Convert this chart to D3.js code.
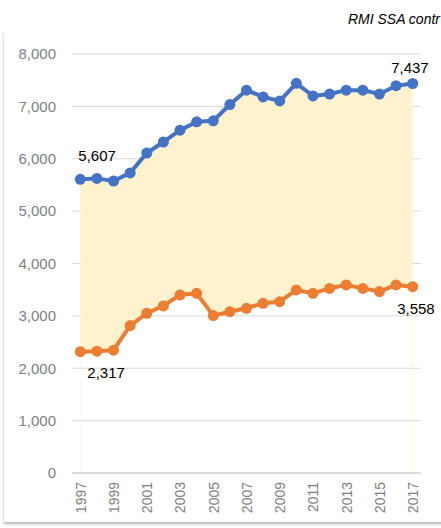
<!DOCTYPE html>
<html>
<head>
<meta charset="utf-8">
<script src="https://cdn.jsdelivr.net/npm/d3@7"></script>
<style>
  body { margin: 0; background: #fff; }
  svg { display: block; font-family: "Liberation Sans", Arial, sans-serif; }
  .tick text { fill: #7f7f7f; }
</style>
</head>
<body>
<svg id="chart" width="441" height="528"></svg>
<script>
// values
var years = d3.range(1997, 2018)
var total = [5607, 5625, 5575, 5730, 6110, 6320, 6545, 6705, 6725, 7035, 7310,
             7180, 7105, 7440, 7200, 7235, 7310, 7310, 7235, 7395, 7437]
var lower = [2317, 2325, 2345, 2815, 3050, 3190, 3400, 3430, 3005, 3080, 3145,
             3240, 3270, 3495, 3430, 3525, 3590, 3525, 3465, 3590, 3558]
var yTicks = [0, 1000, 2000, 3000, 4000, 5000, 6000, 7000, 8000]
var xTickYears = years.filter(function (d) { return (d - 1997) % 2 === 0 })

var svg = d3.select('#chart')

// card with soft shadow
var defs = svg.append('defs')
var f = defs.append('filter').attr('id', 'shadow')
    .attr('x', '-5%').attr('y', '-5%').attr('width', '110%').attr('height', '110%')
f.append('feDropShadow').attr('dx', 0).attr('dy', 2).attr('stdDeviation', 1.8)
    .attr('flood-color', '#000').attr('flood-opacity', 0.3)

svg.append('rect')
    .attr('x', 4).attr('y', 31)
    .attr('width', 460).attr('height', 491)
    .attr('fill', '#fff')
    .attr('filter', 'url(#shadow)')

// title, cut by the right edge as in the source
svg.append('text')
    .attr('x', 440).attr('y', 24)
    .attr('text-anchor', 'end')
    .attr('font-size', 14)
    .attr('font-style', 'italic')
    .attr('fill', '#000')
    .text('RMI SSA contr')

var x = d3.scalePoint()
    .domain(years)
    .range([72, 421])
    .padding(0.5)

var y = d3.scaleLinear()
    .domain([0, 8000])
    .range([473, 54])

// gridlines
svg.append('g')
    .selectAll('line')
    .data(yTicks.filter(function (d) { return d > 0 }))
    .join('line')
    .attr('x1', 72).attr('x2', 421)
    .attr('y1', function (d) { return y(d) })
    .attr('y2', function (d) { return y(d) })
    .attr('stroke', '#d9d9d9')
    .attr('stroke-width', 1)

// fill between the two series
var band = d3.area()
    .x(function (d, i) { return x(years[i]) })
    .y0(function (d, i) { return y(lower[i]) })
    .y1(function (d) { return y(d) })

svg.append('path')
    .datum(total)
    .attr('d', band)
    .attr('fill', '#fff2cc')

// faint edges of the fill down to zero
svg.append('g')
    .selectAll('line')
    .data([0, years.length - 1])
    .join('line')
    .attr('x1', function (i) { return x(years[i]) })
    .attr('x2', function (i) { return x(years[i]) })
    .attr('y1', function (i) { return y(lower[i]) })
    .attr('y2', y(0))
    .attr('stroke', '#fff6e0')
    .attr('stroke-width', 1)

// axes
var yAxis = svg.append('g')
    .attr('transform', 'translate(72,0)')
    .call(d3.axisLeft(y).tickValues(yTicks).tickSize(0).tickPadding(16)
        .tickFormat(d3.format(',')))
yAxis.select('.domain').remove()
yAxis.selectAll('text').attr('font-size', 15)

svg.append('line')
    .attr('x1', 72).attr('x2', 421)
    .attr('y1', y(0)).attr('y2', y(0))
    .attr('stroke', '#d0d0d0')
    .attr('stroke-width', 1.5)

var xAxis = svg.append('g')
    .attr('transform', 'translate(0,' + y(0) + ')')
    .call(d3.axisBottom(x).tickValues(xTickYears).tickSize(0).tickPadding(0))
xAxis.select('.domain').remove()
xAxis.selectAll('text')
    .attr('font-size', 14)
    .attr('transform', 'rotate(-90)')
    .attr('text-anchor', 'end')
    .attr('dy', '0.35em')
    .attr('x', -9)
    .attr('y', 0)

// lines and markers
function drawSeries(values, color) {
    var line = d3.line()
        .x(function (d, i) { return x(years[i]) })
        .y(function (d) { return y(d) })
    svg.append('path')
        .datum(values)
        .attr('d', line)
        .attr('fill', 'none')
        .attr('stroke', color)
        .attr('stroke-width', 4)
        .attr('stroke-linejoin', 'round')
    svg.append('g')
        .selectAll('circle')
        .data(values)
        .join('circle')
        .attr('cx', function (d, i) { return x(years[i]) })
        .attr('cy', function (d) { return y(d) })
        .attr('r', 5.5)
        .attr('fill', color)
}

drawSeries(total, '#4472c4')
drawSeries(lower, '#ed7d31')

// data labels at both ends
var fmt = d3.format(',')
var last = years.length - 1
var labels = [
    { v: total[0], x: x(years[0]) - 2, dy: -24, anchor: 'start' },
    { v: total[last], x: x(years[last]) + 16, dy: -16, anchor: 'end' },
    { v: lower[0], x: x(years[0]) + 7, dy: 21, anchor: 'start' },
    { v: lower[last], x: x(years[last]) + 22, dy: 22, anchor: 'end' }
]
svg.append('g')
    .selectAll('text')
    .data(labels)
    .join('text')
    .attr('x', function (d) { return d.x })
    .attr('y', function (d) { return y(d.v) + d.dy })
    .attr('dy', '0.35em')
    .attr('text-anchor', function (d) { return d.anchor })
    .attr('font-size', 15)
    .attr('fill', '#000')
    .text(function (d) { return fmt(d.v) })
</script>
</body>
</html>
